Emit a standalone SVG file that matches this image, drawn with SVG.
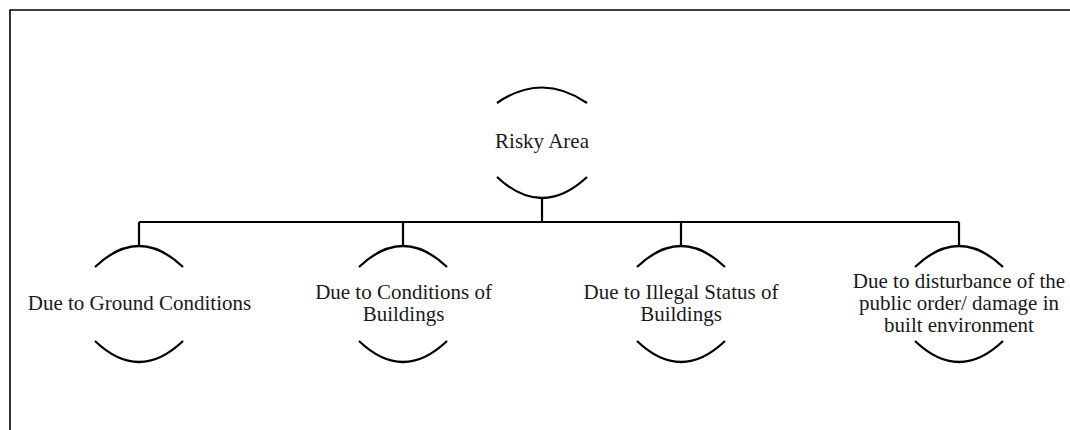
<svg xmlns="http://www.w3.org/2000/svg" width="1070" height="430" viewBox="0 0 1070 430">
  <style>
    .arc { fill: none; stroke: #000; stroke-width: 2.2; }
    .link { fill: none; stroke: #000; stroke-width: 2.2; }
    .frame { fill: none; stroke: #000; stroke-width: 1.6; }
    text { font-family: "Liberation Serif", "Times New Roman", "DejaVu Serif", serif; font-size: 21px; fill: #1a1a1a; text-anchor: middle; }
  </style>
  <rect x="0" y="0" width="1070" height="430" fill="#fff"/>
  <!-- outer frame: only the top and left edges fall inside the canvas -->
  <path class="frame" d="M10,440 V10 H1080"/>

  <g id="connectors">
    <path class="link" d="M542,198 V222"/>
    <path class="link" d="M139,222 H959"/>
    <path class="link" d="M139,222 V246"/>
    <path class="link" d="M403,222 V246"/>
    <path class="link" d="M681,222 V246"/>
    <path class="link" d="M959,222 V246"/>
  </g>

  <g id="risky-area">
    <path class="arc" d="M497,103 Q542,72 587,103"/>
    <path class="arc" d="M497,177 Q542,219 587,177"/>
    <text x="542" y="148">Risky Area</text>
  </g>

  <g id="ground-conditions">
    <path class="arc" d="M95,267 Q139,225 183,267"/>
    <path class="arc" d="M95,341 Q139,383 183,341"/>
    <text x="139.5" y="310">Due to Ground Conditions</text>
  </g>

  <g id="conditions-of-buildings">
    <path class="arc" d="M359,267 Q403,225 447,267"/>
    <path class="arc" d="M359,341 Q403,383 447,341"/>
    <text x="403.5" y="299">Due to Conditions of</text>
    <text x="403.5" y="321">Buildings</text>
  </g>

  <g id="illegal-status">
    <path class="arc" d="M637,267 Q681,225 725,267"/>
    <path class="arc" d="M637,341 Q681,383 725,341"/>
    <text x="681" y="299">Due to Illegal Status of</text>
    <text x="681" y="321">Buildings</text>
  </g>

  <g id="public-order">
    <path class="arc" d="M915,267 Q959,225 1003,267"/>
    <path class="arc" d="M915,341 Q959,383 1003,341"/>
    <text x="959" y="288">Due to disturbance of the</text>
    <text x="959" y="310">public order/ damage in</text>
    <text x="959" y="332">built environment</text>
  </g>
</svg>
